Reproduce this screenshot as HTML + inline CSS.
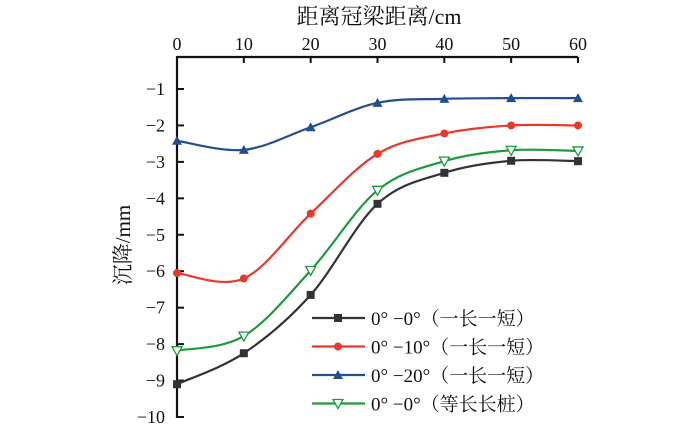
<!DOCTYPE html>
<html><head><meta charset="utf-8"><style>
body{margin:0;background:#fff}
svg text{font-family:"Liberation Serif","Noto Serif CJK SC",serif;fill:#111}
</style></head><body>
<svg width="700" height="435" id="c"></svg>
<script>
const categories=[0,10,20,30,40,50,60];
const black=[-9.1,-8.25,-6.65,-4.15,-3.3,-2.97,-2.98];
const red=[-6.05,-6.2,-4.42,-2.78,-2.22,-2.0,-2.0];
const blue=[-2.42,-2.67,-2.05,-1.38,-1.27,-1.25,-1.25];
const green=[-8.18,-7.78,-5.98,-3.78,-2.98,-2.68,-2.7];
const xTicks=[0,10,20,30,40,50,60];
const yTicks=[-1,-2,-3,-4,-5,-6,-7,-8,-9,-10];
const seriesNames=["0° −0°（一长一短）","0° −10°（一长一短）","0° −20°（一长一短）","0° −0°（等长长桩）"];
const NS="http://www.w3.org/2000/svg";
const svg=document.getElementById('c');
const X=v=>177+(v-0)*(578-177)/60;
const Y=v=>89+(-1-v)*(417-89)/9;
function mk(t,a,p){const e=document.createElementNS(NS,t);for(const k in a)e.setAttribute(k,a[k]);(p||svg).appendChild(e);return e;}
let ax=mk('line',{x1:177,y1:57,x2:578,y2:57,stroke:'#111','stroke-width':2.2});


let ay=mk('line',{x1:177,y1:56,x2:177,y2:418,stroke:'#111','stroke-width':2.2});


xTicks.forEach(v=>{
 mk('line',{x1:X(v),y1:57,x2:X(v),y2:63,stroke:'#111','stroke-width':2});
 let t=mk('text',{x:X(v),y:50,'text-anchor':'middle','font-size':18});t.textContent=v;
 
 
});
yTicks.forEach(v=>{
 mk('line',{x1:177,y1:Y(v),x2:184,y2:Y(v),stroke:'#111','stroke-width':2});
 let t=mk('text',{x:165,y:Y(v)+6,'text-anchor':'end','font-size':18});t.textContent='−'+Math.abs(v);
 
 
});
let xt=mk('text',{x:379,y:24,'text-anchor':'middle','font-size':22});xt.textContent='距离冠梁距离/cm';


let yt=mk('text',{x:0,y:0,'text-anchor':'middle','font-size':21,transform:'translate(130,245) rotate(-90)'});yt.textContent='沉降/mm';


function curve(vals){
 const p=vals.map((v,i)=>[X(categories[i]),Y(v)]);
 let d='M'+p[0][0]+','+p[0][1];
 for(let i=0;i<p.length-1;i++){
  const p0=p[Math.max(0,i-1)],p1=p[i],p2=p[i+1],p3=p[Math.min(p.length-1,i+2)];
  const c1=[p1[0]+(p2[0]-p0[0])/6,p1[1]+(p2[1]-p0[1])/6],c2=[p2[0]-(p3[0]-p1[0])/6,p2[1]-(p3[1]-p1[1])/6];
  d+=`C${c1},${c2},${p2}`;
 }
 return d;
}
function marker(kind,x,y,col,g){
 if(kind==='sq')return mk('rect',{x:x-4,y:y-4,width:8,height:8,fill:col},g);
 if(kind==='ci')return mk('circle',{cx:x,cy:y,r:4,fill:col},g);
 if(kind==='tri')return mk('path',{d:`M${x},${y-5}L${x+5},${y+4}L${x-5},${y+4}Z`,fill:col},g);
 return mk('path',{d:`M${x-5},${y-4}L${x+5},${y-4}L${x},${y+5}Z`,fill:'#fff',stroke:col,'stroke-width':1.3},g);
}
const S=[[black,'#333','sq','series-black'],[red,'#e8392a','ci','series-red'],[blue,'#224f8f','tri','series-blue'],[green,'#1c9a3c','itri','series-green']];
S.forEach((s,k)=>{
 const g=mk('g',{});
 
 
 mk('path',{d:curve(s[0]),fill:'none',stroke:s[1],'stroke-width':2.2},g);
 s[0].forEach((v,i)=>{const m=marker(s[2],X(categories[i]),Y(v),s[1],g);
  
  });
 const ly=318+k*28.5;
 const lg=mk('g',{});
 
 
 mk('line',{x1:312,y1:ly,x2:365,y2:ly,stroke:s[1],'stroke-width':2.2},lg);
 marker(s[2],338,ly,s[1],lg);
 const t=mk('text',{x:371,y:ly+7,'font-size':19},lg);t.textContent=seriesNames[k];
});
</script>
</body></html>
